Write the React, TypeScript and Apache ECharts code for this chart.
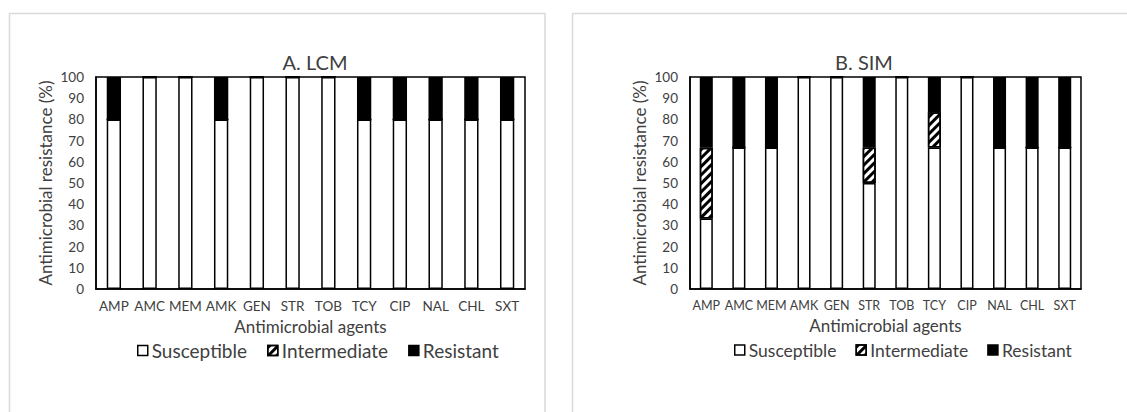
import React, { useEffect, useRef } from "react";
import * as echarts from "echarts";

const categories = ["AMP", "AMC", "MEM", "AMK", "GEN", "STR", "TOB", "TCY", "CIP", "NAL", "CHL", "SXT"];
const lcmSusceptible = [80, 100, 100, 80, 100, 100, 100, 80, 80, 80, 80, 80];
const lcmIntermediate = [0, 0, 0, 0, 0, 0, 0, 0, 0, 0, 0, 0];
const lcmResistant = [20, 0, 0, 20, 0, 0, 0, 20, 20, 20, 20, 20];
const simSusceptible = [33.3, 66.7, 66.7, 100, 100, 50, 100, 66.7, 100, 66.7, 66.7, 66.7];
const simIntermediate = [33.3, 0, 0, 0, 0, 16.7, 0, 16.7, 0, 0, 0, 0];
const simResistant = [33.4, 33.3, 33.3, 0, 0, 33.3, 0, 16.6, 0, 33.3, 33.3, 33.3];
const yTicks = [0, 10, 20, 30, 40, 50, 60, 70, 80, 90, 100];
const panelTitles = ["A. LCM", "B. SIM"];
const seriesNames = ["Susceptible", "Intermediate", "Resistant"];

const FONT = "Lato, 'Open Sans', sans-serif";
const TEXT = "#404040";

export default function App() {
  const ref = useRef<HTMLDivElement>(null);
  useEffect(() => {
    if (!ref.current) return;
    const chart = echarts.init(ref.current, null, { renderer: "svg" });
    const panels = [
      { boxX: 9.5, boxW: 535.5, plotLeft: 96, plotW: 429, titleX: 310, legendLeft: 132, legendFont: 19, legendGap: 20, tickFont: 13.5 },
      { boxX: 572.5, boxW: 600, plotLeft: 690, plotW: 391, titleX: 859, legendLeft: 729, legendFont: 17.5, legendGap: 19, tickFont: 12.5 },
    ];
    const plotTop = 77;
    const plotH = 212;
    const styles = [
      { color: "#fff", borderColor: "#000", borderWidth: 1.5 },
      {
        color: "#fff",
        borderColor: "#000",
        borderWidth: 1.5,
        decal: {
          symbol: "rect",
          symbolSize: 1,
          color: "#000",
          dashArrayX: [1, 0],
          dashArrayY: [2.5, 2.5],
          rotation: -Math.PI / 4,
        },
      },
      { color: "#000", borderColor: "#000", borderWidth: 1.5 },
    ];
    const dataSets = [
      [lcmSusceptible, lcmIntermediate, lcmResistant],
      [simSusceptible, simIntermediate, simResistant],
    ];
    const series: any[] = [];
    dataSets.forEach((ds, p) => {
      ds.forEach((vals, k) => {
        series.push({
          type: "bar",
          name: seriesNames[k],
          xAxisIndex: p,
          yAxisIndex: p,
          stack: "s" + p,
          barCategoryGap: "60%",
          data: vals,
          itemStyle: styles[k],
          emphasis: { disabled: true },
        });
      });
    });
    chart.setOption({
      animation: false,
      aria: { enabled: false },
      textStyle: { fontFamily: FONT, color: TEXT },
      title: panelTitles.map((t, p) => ({
        text: t,
        left: panels[p].titleX,
        top: 47,
        textAlign: "center",
        textStyle: { fontFamily: FONT, fontSize: 20, fontWeight: "normal", color: TEXT },
      })),
      legend: panels.map((pn) => ({
        data: seriesNames,
        left: pn.legendLeft,
        top: 336,
        icon: "rect",
        itemWidth: 10,
        itemHeight: 10,
        itemGap: pn.legendGap,
        itemStyle: { borderWidth: 1.5 },
        selectedMode: false,
        textStyle: { fontFamily: FONT, fontSize: pn.legendFont, color: TEXT, padding: [0, 0, 0, -1] },
      })),
      grid: panels.map((pn) => ({
        left: pn.plotLeft,
        top: plotTop,
        width: pn.plotW,
        height: plotH,
        show: true,
        borderColor: "#000",
        borderWidth: 1.5,
        backgroundColor: "#fff",
        containLabel: false,
      })),
      xAxis: panels.map((pn, p) => ({
        type: "category",
        gridIndex: p,
        data: categories,
        name: "Antimicrobial agents",
        nameLocation: "middle",
        nameGap: 28,
        nameTextStyle: { fontFamily: FONT, fontSize: 17, color: TEXT },
        axisLine: { show: true, lineStyle: { color: "#000", width: 1.5 } },
        axisTick: { show: false },
        axisLabel: { fontFamily: FONT, fontSize: pn.tickFont, color: TEXT, margin: 10, interval: 0 },
      })),
      yAxis: panels.map((_, p) => ({
        type: "value",
        gridIndex: p,
        min: yTicks[0],
        max: yTicks[yTicks.length - 1],
        interval: 10,
        name: "Antimicrobial resistance (%)",
        nameLocation: "middle",
        nameGap: 42,
        nameTextStyle: { fontFamily: FONT, fontSize: 17, color: TEXT },
        axisLine: { show: true, lineStyle: { color: "#000", width: 1.5 } },
        axisTick: { show: false },
        splitLine: { show: false },
        axisLabel: { fontFamily: FONT, fontSize: 13.5, color: TEXT, margin: 12 },
      })),
      graphic: panels.map((pn) => ({
        type: "rect",
        shape: { x: pn.boxX, y: 13.5, width: pn.boxW, height: 420 },
        style: { fill: "none", stroke: "#d9d9d9", lineWidth: 1.5 },
        silent: true,
        z: -1,
      })),
      series,
    });
    return () => chart.dispose();
  }, []);
  return (
    <div
      ref={ref}
      style={{ position: "fixed", left: 0, top: 0, width: 1127, height: 412, background: "#fff" }}
    />
  );
}
